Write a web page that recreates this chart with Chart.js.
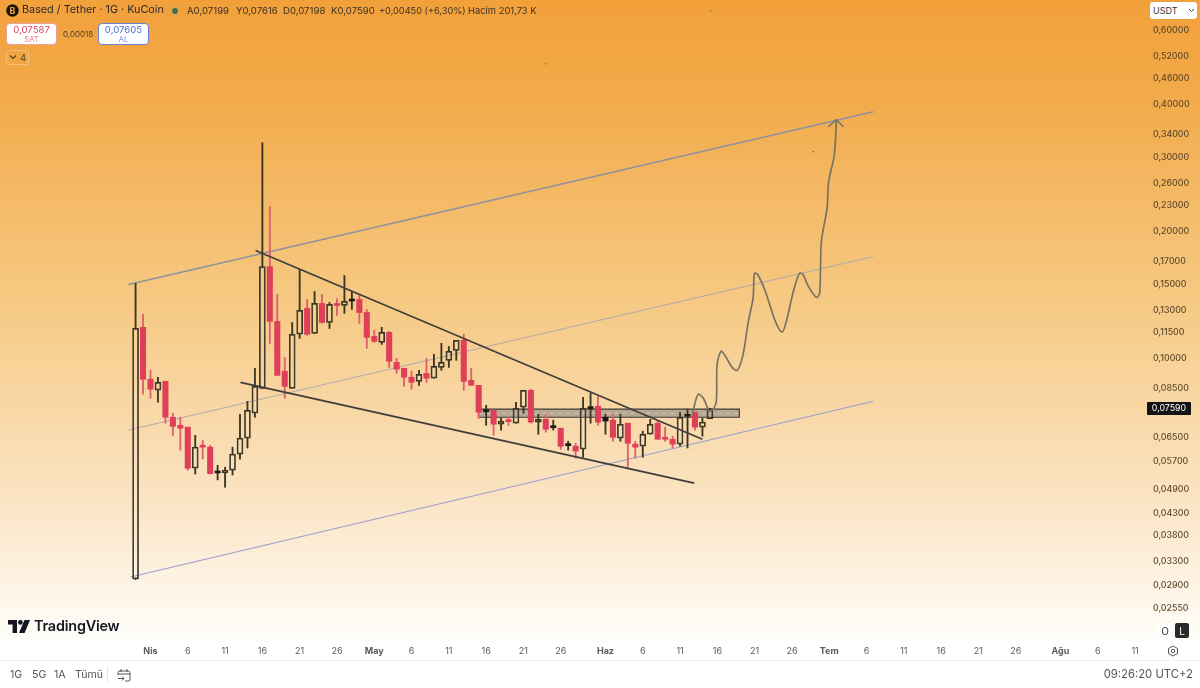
<!DOCTYPE html>
<html lang="tr"><head><meta charset="utf-8">
<script src="https://cdn.jsdelivr.net/npm/chart.js@4"></script>
<style>
html,body{margin:0;padding:0;background:#fff;width:1200px;height:688px;overflow:hidden;font-family:Inter,"Noto Sans",sans-serif}
#wrap{position:relative;width:1200px;height:688px}
#wrap canvas{position:absolute;left:0;top:0}
.t{position:absolute;white-space:nowrap;line-height:1}
.box{position:absolute;background:#fff;box-sizing:border-box}
</style></head><body>
<div id="wrap"><div style="position:absolute;left:0;top:0;width:1200px;height:688px"><canvas id="c" width="1200" height="688"></canvas></div>
<!-- header -->
<svg style="position:absolute;left:6px;top:4px" width="13" height="13"><circle cx="6.5" cy="6.5" r="6.2" fill="#17130d"/><text x="6.5" y="10" font-size="9" font-weight="700" text-anchor="middle" fill="#f0a040" font-family="Inter">B</text></svg>
<div class="t" style="left:22px;top:5px;font-size:10.8px;color:#2b2a2a">Based / Tether · 1G · KuCoin</div>
<svg style="position:absolute;left:169px;top:5px" width="12" height="12"><circle cx="6" cy="6" r="5" fill="#e8a642" stroke="#dfa84f"/><circle cx="6" cy="6" r="3" fill="#3f6f55"/></svg>
<div class="t" style="left:187px;top:6px;font-size:9.6px;color:#3a3226">A0,07199</div>
<div class="t" style="left:236px;top:6px;font-size:9.6px;color:#3a3226">Y0,07616</div>
<div class="t" style="left:283px;top:6px;font-size:9.6px;color:#3a3226">D0,07198</div>
<div class="t" style="left:331px;top:6px;font-size:9.6px;color:#3a3226">K0,07590</div>
<div class="t" style="left:379px;top:6px;font-size:9.2px;color:#3a3226">+0,00450 (+6,30%)</div>
<div class="t" style="left:468px;top:6px;font-size:9.4px;color:#3a3226">Hacim 201,73 K</div>
<div class="box" style="left:6px;top:23px;width:51px;height:22px;border:1px solid #e9a0a0;border-radius:4px"></div>
<div class="t" style="left:6px;width:51px;text-align:center;top:25px;font-size:9.6px;color:#dc4a5c">0,07587</div>
<div class="t" style="left:6px;width:51px;text-align:center;top:36px;font-size:7.6px;color:#e8808c">SAT</div>
<div class="t" style="left:63px;top:30px;font-size:8px;color:#4a3d28">0,00018</div>
<div class="box" style="left:98px;top:23px;width:51px;height:22px;border:1px solid #6f7fd0;border-radius:4px"></div>
<div class="t" style="left:98px;width:51px;text-align:center;top:25px;font-size:9.6px;color:#4a6fd8">0,07605</div>
<div class="t" style="left:98px;width:51px;text-align:center;top:36px;font-size:7.6px;color:#6f8fe0">AL</div>
<div style="position:absolute;left:6px;top:50px;width:23px;height:15px;box-sizing:border-box;border:1px solid #f2c07a;border-radius:3px"></div>
<svg style="position:absolute;left:9px;top:54px" width="8" height="6"><path d="M1 1.5L4 4.5L7 1.5" fill="none" stroke="#4a3d28" stroke-width="1.1"/></svg>
<div class="t" style="left:20px;top:53px;font-size:9.5px;color:#4a3d28">4</div>
<!-- USDT -->
<div class="box" style="left:1150px;top:2px;width:47px;height:17px;border-radius:3px"></div>
<div class="t" style="left:1153px;top:6px;font-size:9px;color:#333">USDT</div>
<svg style="position:absolute;left:1188px;top:8px" width="7" height="5"><path d="M1 1L3.5 3.5L6 1" fill="none" stroke="#444" stroke-width="1"/></svg>
<!-- last price -->
<div class="box" style="left:1147px;top:402px;width:44px;height:13px;background:#131313;border-radius:1px"></div>
<div class="t" style="left:1147px;width:44px;text-align:center;top:404px;font-size:8.8px;color:#fff">0,07590</div>
<!-- logo -->
<svg style="position:absolute;left:8px;top:620px" width="22" height="14"><path d="M0 0H9V13H4.6V4.4H0Z" fill="#131722"/><circle cx="12.4" cy="2.4" r="2.4" fill="#131722"/><path d="M16.5 0H22L16.6 13H11Z" fill="#131722"/></svg>
<div class="t" style="left:34px;top:619px;font-size:14.4px;font-weight:600;color:#131722;letter-spacing:-.2px">TradingView</div>
<div class="box" style="left:1158px;top:623px;width:14px;height:15px;border-radius:2px;background:#fff"></div>
<div class="t" style="left:1158px;width:14px;text-align:center;top:626px;font-size:10px;color:#333">O</div>
<div class="box" style="left:1175px;top:623px;width:14px;height:15px;border-radius:2px;background:#2a2a2a"></div>
<div class="t" style="left:1175px;width:14px;text-align:center;top:626px;font-size:10px;color:#fff">L</div>
<svg style="position:absolute;left:1167px;top:645px" width="12" height="12"><path d="M6 1L10.5 3.5V8.5L6 11L1.5 8.5V3.5Z" fill="none" stroke="#555" stroke-width="1"/><circle cx="6" cy="6" r="1.7" fill="none" stroke="#555" stroke-width="1"/></svg>
<!-- footer -->
<div style="position:absolute;left:0;top:660px;width:1200px;height:1px;background:#f0f0f0"></div>
<div class="t" style="left:10px;top:670px;font-size:10.6px;color:#555">1G</div>
<div class="t" style="left:32px;top:670px;font-size:10.6px;color:#555">5G</div>
<div class="t" style="left:54px;top:670px;font-size:10.6px;color:#555">1A</div>
<div class="t" style="left:75px;top:670px;font-size:10.6px;color:#555">Tümü</div>
<div style="position:absolute;left:107px;top:667px;width:1px;height:15px;background:#e6e6e6"></div>
<svg style="position:absolute;left:117px;top:668px" width="14" height="14"><path d="M3 3H11.5Q13 3 13 4.5V12Q13 13 11.5 13H8M1 7V4.5Q1 3 3 3M1 6H13M4 1V4M10 1V4M1 10.5H7M5 8.5L7 10.5L5 12.5" fill="none" stroke="#555" stroke-width="1"/></svg>
<div class="t" style="right:7px;top:669px;font-size:11.3px;color:#555">09:26:20 UTC+2</div>
</div>
<script>
// Candles, oldest first: the first candle sits at day -2 relative to 1 Nisan
const firstDay = -2;
const opens  = [.0300,.1184,.0892,.0840,.0882,.0725,.0694,.0687,.0549,.0619,.0616,.0535,.0535,.0543,.0593,.0647,.0741,.0849,.1650,.1223,.0932,.0849,.1140,.1313,.1146,.1349,.1216,.1342,.1334,.1367,.1379,.1284,.1127,.1091,.1152,.0978,.0947,.0902,.0882,.0921,.0897,.0952,.0989,.1044,.1103,.0887,.0863,.0747,.0753,.0698,.0710,.0702,.0766,.0840,.0706,.0717,.0685,.0683,.0621,.0619,.0609,.0760,.0770,.0710,.0714,.0647,.0702,.0626,.0619,.0661,.0702,.0645,.0643,.0626,.0729,.0745,.0687,.07199];
const highs  = [.1504,.1271,.0937,.0902,.0882,.0741,.0725,.0687,.0657,.0640,.0622,.0558,.0552,.0616,.0737,.0791,.0947,.3243,.2288,.1417,.1005,.1216,.1623,.1379,.1440,.1417,.1356,.1386,.1571,.1440,.1417,.1306,.1165,.1184,.1158,.1000,.0947,.0932,.0937,.1000,.1022,.1085,.1067,.1103,.1140,.0947,.0863,.0774,.0753,.0721,.0725,.0787,.0840,.0845,.0737,.0737,.0714,.0683,.0636,.0629,.0808,.0826,.0817,.0737,.0737,.0737,.0702,.0636,.0672,.0717,.0710,.0687,.0654,.0745,.0758,.0745,.0721,.07616];
const lows   = [.0299,.0822,.0804,.0787,.0702,.0657,.0606,.0543,.0532,.0577,.0532,.0515,.0495,.0529,.0577,.0613,.0725,.0849,.1085,.0911,.0804,.0849,.1115,.1133,.1146,.1210,.1177,.1264,.1278,.1306,.1210,.1056,.1091,.1079,.0952,.0921,.0858,.0845,.0863,.0877,.0897,.0937,.0952,.0989,.0840,.0863,.0721,.0694,.0657,.0676,.0694,.0702,.0741,.0702,.0661,.0668,.0676,.0609,.0606,.0580,.0583,.0702,.0694,.0661,.0636,.0636,.0552,.0580,.0583,.0661,.0643,.0636,.0613,.0619,.0613,.0676,.0654,.07198];
const closes = [.1177,.0892,.0845,.0877,.0725,.0690,.0683,.0549,.0616,.0616,.0533,.0537,.0543,.0593,.0647,.0753,.0858,.1650,.1223,.0911,.0858,.1140,.1299,.1140,.1349,.1216,.1342,.1334,.1364,.1371,.1284,.1121,.1097,.1152,.0984,.0942,.0902,.0877,.0916,.0897,.0957,.0978,.1039,.1103,.0882,.0863,.0745,.0749,.0698,.0710,.0708,.0762,.0840,.0706,.0717,.0679,.0687,.0619,.0622,.0603,.0762,.0762,.0706,.0725,.0650,.0698,.0629,.0616,.0661,.0698,.0643,.0643,.0626,.0725,.0733,.0687,.0706,.07590];
const solidDark = [11,29,47,56,58,61,63,74];      // candle numbers painted as solid dark marks

// Axis ticks
const priceTicks = [.6,.52,.46,.4,.34,.3,.26,.23,.2,.17,.15,.13,.115,.1,.085,.065,.057,.049,.043,.038,.033,.029,.0255];
const dayTicks   = [0,5,10,15,20,25,30,35,40,45,50,55,61,66,71,76,81,86,91,96,101,106,111,116,122,127,132];
const dayLabels  = ['Nis','6','11','16','21','26','May','6','11','16','21','26','Haz','6','11','16','21','26','Tem','6','11','16','21','26','Ağu','6','11'];
const monthLabels = ['Nis','May','Haz','Tem','Ağu'];

// Hand-drawn overlays, as [day, price]
const channelTop = [[-2.95,.1496],[96.9,.3839]];
const channelMid = [[-2.95,.0676],[96.9,.1742]];
const channelLow = [[-2.68,.03033],[96.9,.0791]];
const wedgeUpper = [[14.08,.1800],[74,.0643]];
const wedgeLower = [[12.06,.0877],[72.9,.0506]];
const zoneDays = [43.97,78.95];
const zonePrices = [.0758,.0725,.0741];
const sketchDays   = [72.65,73.06,73.46,74.13,74.93,75.47,75.87,75.97,76.5,77.08,77.98,78.69,79.45,80.16,80.79,80.97,81.41,82.44,83.78,84.68,85.25,86.19,87,87.49,88.2,89.28,89.72,89.95,90.71,90.92,91.69,91.96];
const sketchPrices = [.0733,.0791,.0822,.0804,.0749,.0758,.0791,.0968,.1039,.1011,.0952,.0937,.1022,.1223,.1388,.1588,.1580,.1440,.1223,.1154,.1223,.1440,.1590,.1580,.1480,.1394,.1428,.1891,.2267,.2622,.3037,.3675];
const arrowHead = [[90.88,.3537],[91.96,.3675],[92.9,.3537]];
const specks = [[52.95,.4985],[88.87,.3087],[75.07,.6653]];

const RED='#df3f58', DARK='#3b3524', REDWICK='#e0606f';
const toXY = a => a.map(p => ({x:p[0], y:p[1]}));
const redBodies=[], hollowBodies=[], darkBodies=[], redWicks=[], darkWicks=[];
opens.forEach((o,i)=>{
  const x=firstDay+i, c=closes[i], top=Math.max(o,c), bot=Math.min(o,c);
  const isRed=c<o, isSolid=solidDark.includes(i);
  const wick=isRed?redWicks:darkWicks;
  wick.push({x,y:[top,highs[i]]},{x,y:[lows[i],bot]});
  (isSolid?darkBodies:isRed?redBodies:hollowBodies).push({x,y:[bot,top]});
});
const base={pointRadius:0,tension:0,fill:false,type:'line'};
const bar={type:'bar',grouped:false,borderSkipped:false};
const datasets=[
 {...base,label:'Bölge',order:9,data:toXY([[zoneDays[0],zonePrices[0]],[zoneDays[1],zonePrices[0]],[zoneDays[1],zonePrices[1]],[zoneDays[0],zonePrices[1]],[zoneDays[0],zonePrices[0]]]),borderColor:'#3d3a34',borderWidth:1.2,backgroundColor:'rgba(120,120,125,.5)',fill:'shape'},
 {...base,label:'Bölge orta',order:8,data:toXY([[zoneDays[0],zonePrices[2]],[zoneDays[1],zonePrices[2]]]),borderColor:'rgba(220,210,200,.7)',borderWidth:1,borderDash:[4,4]},
 {...base,label:'Kanal üst',order:7,data:toXY(channelTop),borderColor:'#8f919f',borderWidth:1.4},
 {...base,label:'Kanal orta',order:7,data:toXY(channelMid),borderColor:'#a6a6ae',borderWidth:.9},
 {...base,label:'Kanal alt',order:7,data:toXY(channelLow),borderColor:'#9a9fce',borderWidth:1.2},
 {...bar,label:'Fitil kırmızı',order:6,data:redWicks,backgroundColor:REDWICK,barThickness:1.2,borderWidth:0},
 {...bar,label:'Fitil koyu',order:6,data:darkWicks,backgroundColor:DARK,barThickness:1.2,borderWidth:0},
 {...bar,label:'Düşüş',order:5,data:redBodies,backgroundColor:RED,barThickness:5.4,minBarLength:2,borderWidth:0},
 {...bar,label:'Yükseliş',order:5,data:hollowBodies,backgroundColor:'rgba(255,250,240,.08)',borderColor:DARK,borderWidth:1.1,barThickness:6,minBarLength:2},
 {...bar,label:'Koyu',order:5,data:darkBodies,backgroundColor:'#1c1a14',barThickness:5.4,minBarLength:2,borderWidth:0},
 {...base,label:'Kama üst',order:3,data:toXY(wedgeUpper),borderColor:'#3f3d3b',borderWidth:1.7},
 {...base,label:'Kama alt',order:3,data:toXY(wedgeLower),borderColor:'#3f3d3b',borderWidth:1.7},
 {...base,label:'Çizim',order:2,tension:.3,data:sketchDays.map((d,i)=>({x:d,y:sketchPrices[i]})),borderColor:'#7a7264',borderWidth:1.7},
 {...base,label:'Ok',order:2,data:toXY(arrowHead),borderColor:'#7a7264',borderWidth:1.5},
 {type:'line',label:'Noktalar',order:1,showLine:false,data:toXY(specks),pointRadius:.7,pointBackgroundColor:'#6b5020',pointBorderWidth:0},
];
const backdrop={id:'backdrop',beforeDraw(ch){
  const g=ch.ctx.createLinearGradient(0,0,0,642);
  g.addColorStop(0,'#f2a03a');g.addColorStop(.16,'#f2ab4b');g.addColorStop(.47,'#f6c983');g.addColorStop(.78,'#fbe4c4');g.addColorStop(1,'#fffefb');
  ch.ctx.save();ch.ctx.fillStyle=g;ch.ctx.fillRect(0,0,1200,642);ch.ctx.restore();
}};
new Chart(document.getElementById('c'),{
  type:'bar',data:{datasets},plugins:[backdrop],
  options:{responsive:false,animation:false,events:[],
    layout:{padding:{bottom:27,left:0,right:0,top:0}},
    plugins:{legend:{display:false},tooltip:{enabled:false},title:{display:false}},
    scales:{
      x:{type:'linear',min:-19.64,max:133.47,offset:false,grid:{display:false,offset:false,drawTicks:false},border:{display:false},
        afterBuildTicks:s=>{s.ticks=dayTicks.map(value=>({value}));},
        afterFit:s=>{s.height=21;s.paddingLeft=0;s.paddingRight=0;},
        ticks:{autoSkip:false,maxRotation:0,padding:6,color:'#5b5b5b',
          font:ctx=>{const l=ctx.tick?dayLabels[dayTicks.indexOf(ctx.tick.value)]:'';return {family:'Inter',size:9,weight:monthLabels.includes(l)?'700':'400'};},
          callback:v=>dayLabels[dayTicks.indexOf(v)]}},
      y:{type:'logarithmic',position:'right',min:.02151,max:.6909,
        grid:{display:false,drawTicks:false},border:{display:false},
        afterBuildTicks:s=>{s.ticks=priceTicks.map(value=>({value}));},
        afterFit:s=>{s.width=54;s.paddingTop=0;s.paddingBottom=0;},
        ticks:{autoSkip:false,padding:7,color:'#5f4a2c',font:{family:'Inter',size:8.8,weight:'500'},crossAlign:'near',
          callback:v=>v.toFixed(5).replace('.',',')}}
    }}
});
</script></body></html>
